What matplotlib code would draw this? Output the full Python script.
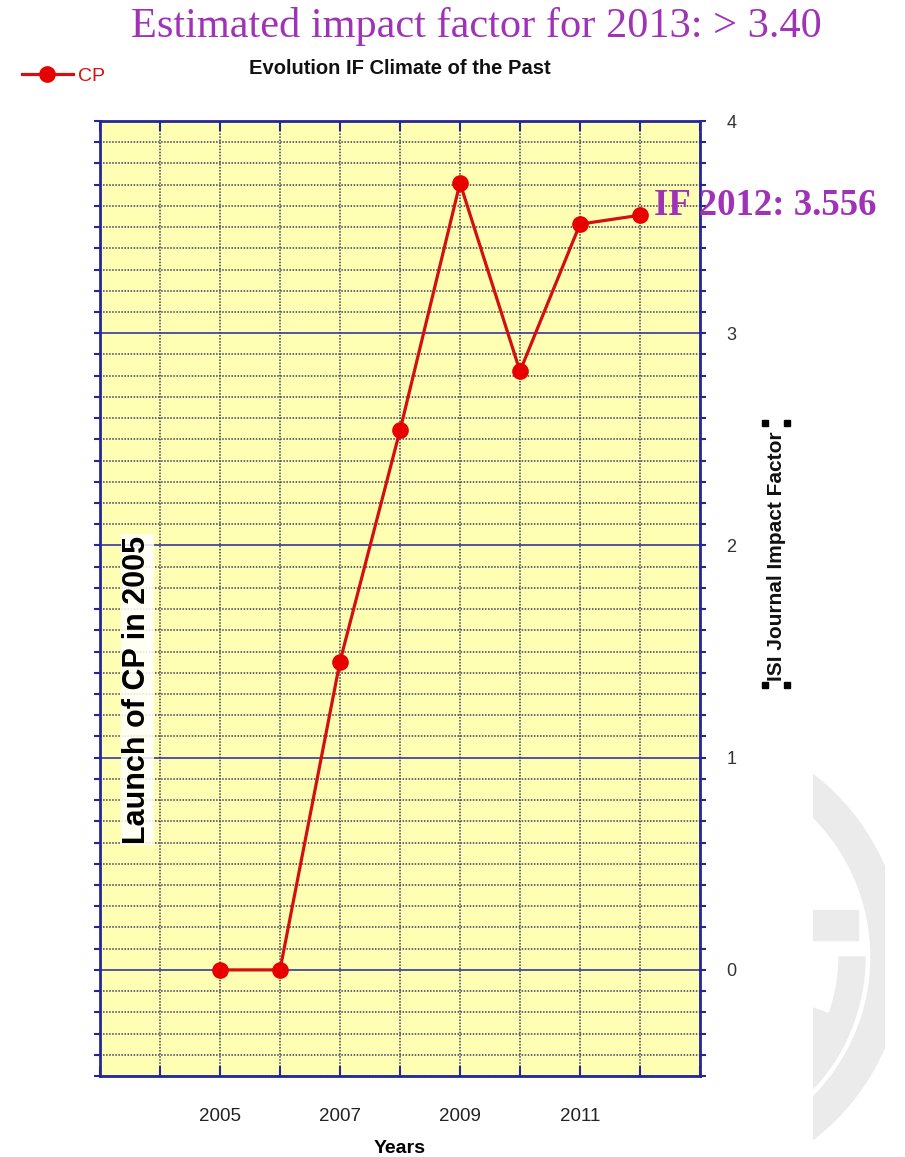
import numpy as np
import matplotlib
matplotlib.use("Agg")
import matplotlib.pyplot as plt
from matplotlib.ticker import MultipleLocator, FixedLocator
from matplotlib.patches import Wedge, Rectangle

plt.rcParams['font.family'] = ['Liberation Sans', 'DejaVu Sans']

# data
years = [2005, 2006, 2007, 2008, 2009, 2010, 2011, 2012]
impact = [0.0, 0.0, 1.453, 2.542, 3.708, 2.821, 3.514, 3.556]
year_labels = [2005, 2007, 2009, 2011]
if_ticks = [0, 1, 2, 3, 4]

header = 'Estimated impact factor for 2013: > 3.40'
note_2012 = 'IF 2012: 3.556'

navy = '#26269c'
purple = '#a032b8'
red = '#d40f0f'

W, H = 905, 1157
fig = plt.figure(figsize=(W / 100, H / 100), dpi=100)

# overlay in pixel units for the faint logo and the label handles
bg = fig.add_axes([0, 0, 1, 1], zorder=0)
bg.set_xlim(0, W)
bg.set_ylim(H, 0)
bg.axis('off')
clip = Rectangle((813, 700), 72, 460, transform=bg.transData)
gray = '#ebebeb'
shapes = [
    Wedge((673, 957), 230, 0, 360, width=32, color=gray),
    Wedge((673, 957), 192, 0, 90, width=26, color=gray),
    Rectangle((813, 910), 45, 30, color=gray),
    Wedge((673, 957), 192, 20, 90, width=60, color=gray),
]
for s in shapes:
    bg.add_patch(s)
    s.set_clip_path(clip)
for (hx, hy) in [(765, 423), (787, 423), (765, 685), (787, 685)]:
    bg.add_patch(Rectangle((hx - 3, hy - 3), 6, 6, color='black'))

ax = fig.add_axes([100 / W, 1 - 1076 / H, 600 / W, (1076 - 121) / H], zorder=2)
ax.set_facecolor('#ffffb4')
ax.set_xlim(2003, 2013)
ax.set_ylim(-0.5, 4)

ax.xaxis.set_major_locator(FixedLocator(year_labels))
ax.xaxis.set_minor_locator(MultipleLocator(1))
ax.yaxis.set_major_locator(FixedLocator(if_ticks))
ax.yaxis.set_minor_locator(MultipleLocator(0.1))

ax.grid(which='major', axis='y', color=navy, linestyle='-', linewidth=1.1)
ax.grid(which='minor', axis='y', color='#3c3c60', linestyle=(0, (1, 1)), linewidth=1.1)
ax.grid(which='both', axis='x', color='#3c3c60', linestyle=(0, (1, 1)), linewidth=1.1)
ax.set_axisbelow(True)

for sp in ax.spines.values():
    sp.set_color(navy)
    sp.set_linewidth(2)

ax.tick_params(axis='x', which='both', direction='in', length=7, width=1.5, color=navy,
               top=True, bottom=True, labelsize=13.5, labelcolor='#222222', pad=23)
ax.tick_params(axis='y', which='both', direction='out', length=4, width=1.5, color=navy,
               left=True, right=True, labelleft=False, labelright=True,
               labelsize=13, labelcolor='#333333', pad=15)

ax.plot(years, impact, color=red, linewidth=2.3, marker='o', markersize=11,
        markerfacecolor='#e80000', markeredgecolor='#e80000', label='CP', zorder=5)

ax.set_xlabel('Years', fontsize=14, fontweight='bold', labelpad=11)

ax.text(2003.62, 1.32, 'Launch of CP in 2005', rotation=90, fontsize=22, fontweight='bold',
        ha='center', va='center', zorder=6,
        bbox=dict(facecolor='white', edgecolor='none', pad=1, alpha=0.85))

ax.text(years[-1] + 0.23, 3.60, note_2012, fontsize=26.5, fontweight='bold',
        family='Liberation Serif', color=purple, ha='left', va='center',
        clip_on=False, zorder=7)

fig.text(776 / W, 1 - 556 / H, 'ISI Journal Impact Factor', rotation=90,
         fontsize=15, fontweight='bold', ha='center', va='center', color='#111111')

fig.text(400 / W, 1 - 69 / H, 'Evolution IF Climate of the Past', fontsize=14.5,
         fontweight='bold', ha='center', va='center', color='#111111')

fig.text(476 / W, 1 - 27 / H, header, fontsize=30.5, family='Liberation Serif',
         color=purple, ha='center', va='center')

fig.legend(loc='center left', bbox_to_anchor=(22 / W, 1 - 76 / H), frameon=False,
           borderaxespad=0, borderpad=0, handletextpad=0.3, handlelength=2.6,
           fontsize=14, labelcolor=red)

fig.savefig('out.png', dpi=100)
